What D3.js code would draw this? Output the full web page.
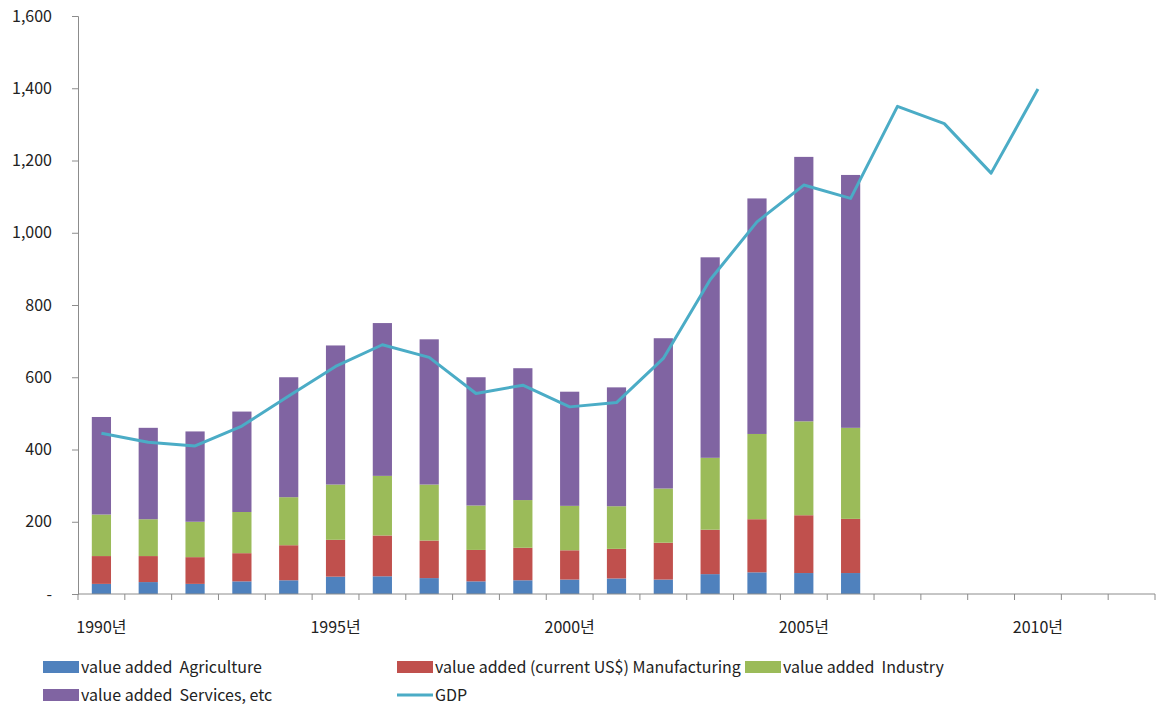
<!DOCTYPE html>
<html>
<head>
<meta charset="utf-8">
<script src="https://cdn.jsdelivr.net/npm/d3@7"></script>
<style>
  html, body { margin: 0; padding: 0; background: #fff; }
  svg { display: block; }
  text { font-family: "Noto Sans CJK KR", "Noto Sans", sans-serif; fill: #222; white-space: pre; }
</style>
</head>
<body>
<svg id="chart" width="1157" height="706"></svg>
<script>
// Years on the category axis (1990–2012); value-added bars stop at 2006, GDP at 2010
const years = d3.range(1990, 2013);
const barYears = d3.range(1990, 2007);
const gdpYears = d3.range(1990, 2011);

// Stacked value-added components (segment heights)
const agriculture   = [28, 33, 28, 35, 38, 48, 49, 44, 35, 38, 40, 43, 40, 55, 60, 58, 58];
const manufacturing = [77, 72, 74, 78, 97, 102, 113, 104, 87, 90, 81, 82, 102, 123, 147, 160, 150];
const industry      = [115, 102, 98, 114, 133, 153, 165, 155, 123, 132, 123, 118, 150, 199, 236, 260, 252];
const services      = [270, 253, 250, 278, 332, 385, 423, 402, 355, 365, 316, 329, 416, 555, 652, 732, 700];

// GDP line
const gdp = [445, 420, 410, 465, 548, 630, 690, 655, 555, 578, 518, 530, 652, 870, 1030, 1132, 1095, 1350, 1302, 1165, 1398];

const yTicks = [0, 200, 400, 600, 800, 1000, 1200, 1400, 1600];
const xLabelYears = [1990, 1995, 2000, 2005, 2010];

const seriesNames = ["value added  Agriculture", "value added (current US$) Manufacturing", "value added  Industry", "value added  Services, etc"];
const seriesColors = ["#4f81bd", "#c0504d", "#9bbb59", "#8064a2"];
const gdpColor = "#4bacc6";

const svg = d3.select("#chart");
const plotLeft = 78, plotRight = 1155, plotTop = 16, plotBottom = 594;
const fontStack = "\"Noto Sans CJK KR\", \"Noto Sans\", sans-serif";

const x = d3.scaleBand().domain(years).range([plotLeft, plotRight])
  .paddingInner(0.59).paddingOuter(0.295);
const y = d3.scaleLinear().domain([0, 1600]).range([plotBottom, plotTop]);

// Stack the four components
const rows = barYears.map((yr, i) => ({
  year: yr, s0: agriculture[i], s1: manufacturing[i], s2: industry[i], s3: services[i]
}));
const stacked = d3.stack().keys(["s0", "s1", "s2", "s3"])(rows);

svg.append("g").selectAll("g").data(stacked).join("g")
  .attr("fill", (d, i) => seriesColors[i])
  .selectAll("rect").data(d => d).join("rect")
  .attr("x", d => x(d.data.year))
  .attr("width", x.bandwidth())
  .attr("y", d => y(d[1]))
  .attr("height", d => y(d[0]) - y(d[1]));

// Axes
const axisColor = "#8c8c8c";
const yAxis = svg.append("g").attr("transform", `translate(${plotLeft},0)`)
  .call(d3.axisLeft(y).tickValues(yTicks).tickSize(6).tickPadding(20)
    .tickFormat(v => v === 0 ? "-" : d3.format(",")(v)));
yAxis.select(".domain").attr("stroke", axisColor);
yAxis.selectAll(".tick line").attr("stroke", axisColor);
yAxis.selectAll(".tick text").attr("font-size", 16).attr("fill", "#222")
  .attr("font-family", fontStack);

// Category axis: ticks at category boundaries
const xg = svg.append("g");
xg.append("line").attr("x1", plotLeft).attr("x2", plotRight)
  .attr("y1", plotBottom).attr("y2", plotBottom).attr("stroke", axisColor);
const boundaries = years.map(yr => x(yr) - x.step() * x.paddingInner() / 2);
boundaries.push(plotRight);
xg.selectAll("line.tk").data(boundaries).join("line").attr("class", "tk")
  .attr("x1", d => d).attr("x2", d => d).attr("y1", plotBottom).attr("y2", plotBottom + 6)
  .attr("stroke", axisColor);
xg.selectAll("text").data(xLabelYears).join("text")
  .attr("x", d => x(d) + x.bandwidth() / 2)
  .attr("y", 633)
  .attr("text-anchor", "middle")
  .attr("font-size", 16)
  .text(d => d + "년");

// GDP line
const line = d3.line()
  .x((d, i) => x(gdpYears[i]) + x.bandwidth() / 2)
  .y(d => y(d));
svg.append("path").datum(gdp)
  .attr("fill", "none")
  .attr("stroke", gdpColor)
  .attr("stroke-width", 3)
  .attr("stroke-linejoin", "round")
  .attr("d", line);

// Legend
const legend = svg.append("g");
const legendItems = [
  { name: seriesNames[0], color: seriesColors[0], x: 43, y: 667, type: "rect" },
  { name: seriesNames[1], color: seriesColors[1], x: 397, y: 667, type: "rect" },
  { name: seriesNames[2], color: seriesColors[2], x: 745, y: 667, type: "rect" },
  { name: seriesNames[3], color: seriesColors[3], x: 43, y: 695, type: "rect" },
  { name: "GDP", color: gdpColor, x: 397, y: 695, type: "line" }
];
legendItems.forEach(it => {
  const g = legend.append("g").attr("transform", `translate(${it.x},${it.y})`);
  if (it.type === "rect") {
    g.append("rect").attr("x", 0).attr("y", -6).attr("width", 36).attr("height", 12).attr("fill", it.color);
  } else {
    g.append("line").attr("x1", 0).attr("x2", 36).attr("y1", 0).attr("y2", 0)
      .attr("stroke", it.color).attr("stroke-width", 3);
  }
  g.append("text").attr("x", 38).attr("y", 5.5).attr("font-size", 16).text(it.name);
});
</script>
</body>
</html>
